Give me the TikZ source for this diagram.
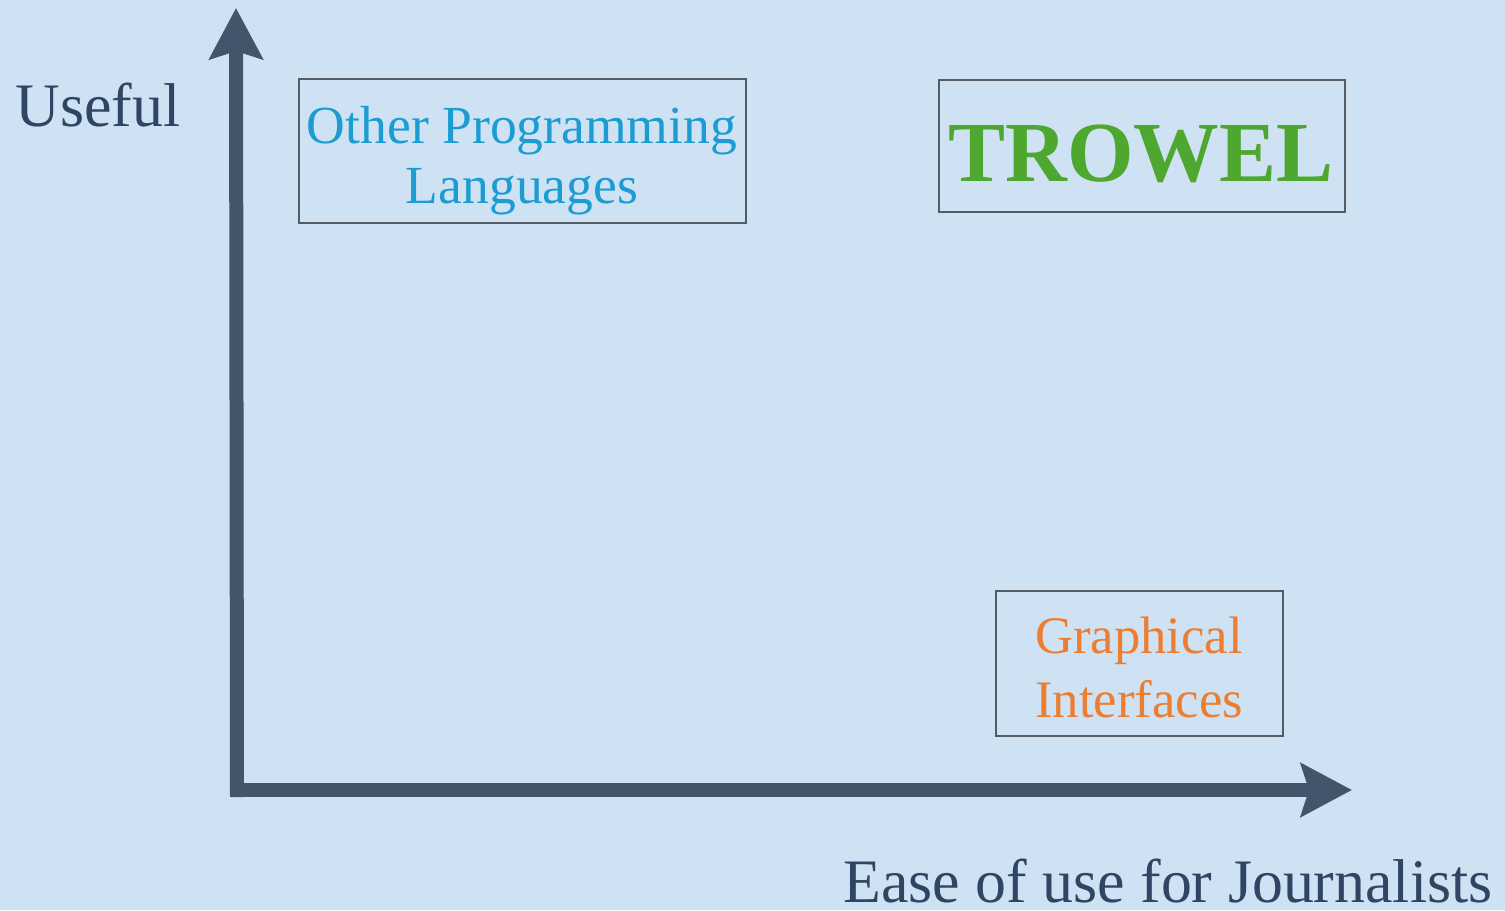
\documentclass[tikz,border=0pt]{standalone}
\usepackage{fontspec}
\setmainfont{Liberation Serif}
\usetikzlibrary{arrows.meta}
\definecolor{bgblue}{HTML}{CFE2F3}
\definecolor{axisc}{HTML}{44546A}
\definecolor{labelc}{HTML}{2F4563}
\definecolor{bluec}{HTML}{1B9CD2}
\definecolor{greenc}{HTML}{4EA72E}
\definecolor{orangec}{HTML}{ED7D31}
\definecolor{boxc}{HTML}{555B63}
\tikzset{
  axis/.style={draw=axisc, line width=0.28cm, line cap=butt,
    -{Stealth[length=1.02cm, width=1.06cm, inset=0.16cm]}},
  catbox/.style={draw=boxc, line width=0.9pt, inner sep=0pt},
  boxtext/.style={align=center, inner sep=0pt, anchor=base},
  axlabel/.style={text=labelc, inner sep=0pt, anchor=base west, font=\fontsize{35.2}{42}\selectfont},
}
\begin{document}
\begin{tikzpicture}[x=0.02cm, y=-0.02cm]
\fill[bgblue] (0,0) rectangle (1505,910);
\useasboundingbox (0,0) rectangle (1505,910);
% axes
\coordinate (ybot) at (237,797);
\coordinate (ytip) at (236,8);
\coordinate (xleft) at (230,790);
\coordinate (xtip) at (1352,790);
\draw[axis] (ybot) -- (ytip);
\draw[axis] (xleft) -- (xtip);
% axis labels
\node[axlabel] (useful) at (15,126) {Useful};
\node[axlabel] (ease) at (843,902) {Ease of use for Journalists};
% boxes
\node[catbox, minimum width=8.94cm, minimum height=2.88cm] (opl) at (522.5,151) {};
\node[boxtext, text=bluec, font=\fontsize{30.5}{34.1}\selectfont] (opltext) at (522,203)
  {Other Programming\\Languages};
\node[catbox, minimum width=8.12cm, minimum height=2.64cm] (trowel) at (1142,146) {};
\node[boxtext, text=greenc, font=\fontsize{48.7}{56}\selectfont\bfseries] (troweltext) at (1141,181) {TROWEL};
\node[catbox, minimum width=5.74cm, minimum height=2.9cm] (gui) at (1139.5,663.5) {};
\node[boxtext, text=orangec, font=\fontsize{30}{36.4}\selectfont] (guitext) at (1139,717)
  {Graphical\\Interfaces};
\end{tikzpicture}
\end{document}
